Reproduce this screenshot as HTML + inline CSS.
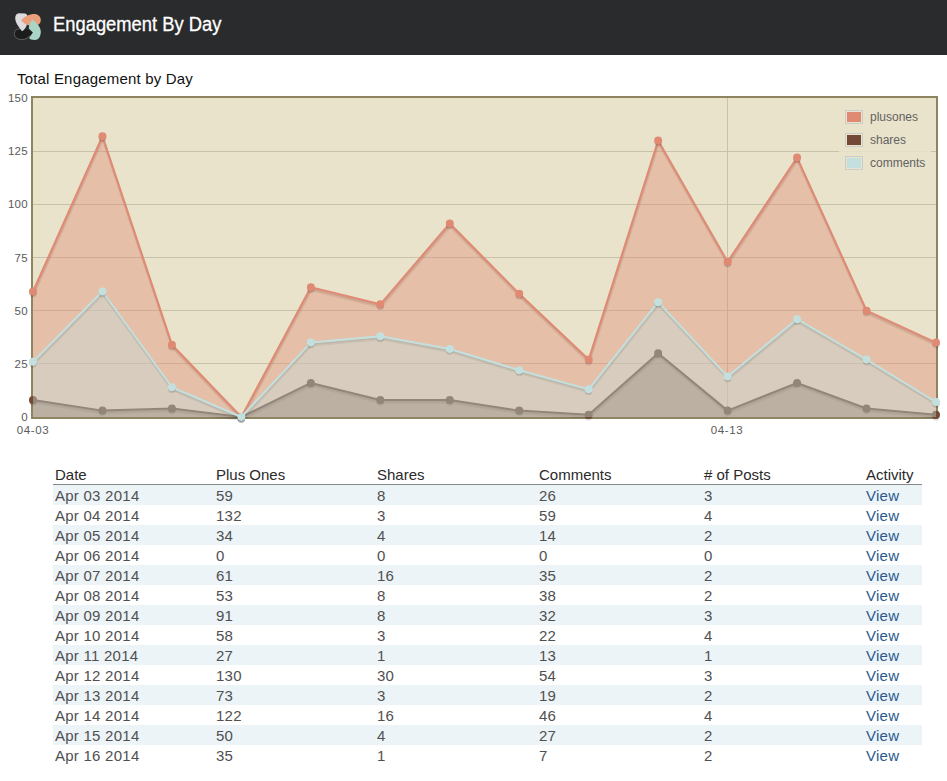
<!DOCTYPE html>
<html><head><meta charset="utf-8"><style>
html,body{margin:0;padding:0;background:#fff;width:947px;height:781px;overflow:hidden;position:relative}
body{font-family:"Liberation Sans",sans-serif}
.hdr{position:absolute;left:0;top:0;width:947px;height:55px;background:#2a2b2d}
.hdr .t{position:absolute;left:53px;top:12px;font-size:20px;color:#fff;line-height:24px;white-space:nowrap;transform-origin:0 0;transform:scaleX(0.918);-webkit-text-stroke:0.3px #fff}
.title{position:absolute;left:17px;top:70px;font-size:15px;letter-spacing:0.18px;color:#111;line-height:18px;white-space:nowrap}
.yl{position:absolute;right:919px;width:30px;text-align:right;font-size:11.5px;letter-spacing:0.3px;line-height:14px;color:#5a5a5a}
.xl{position:absolute;top:423px;font-size:11.5px;letter-spacing:0.6px;line-height:14px;color:#5a5a5a;width:40px;text-align:center}
.legend{position:absolute;left:839px;top:103px;width:92px;height:76px;background:#eae3cb;opacity:.85}
.lg{position:absolute;left:845px;width:18px;height:14px;box-sizing:border-box;border:1px solid #ccc;padding:1px}
.lg div{width:14px;height:10px}
.ll{position:absolute;left:870px;font-size:12px;line-height:14px;color:#626262;white-space:nowrap}
table{position:absolute;left:53px;top:464px;width:869px;border-collapse:collapse;font-size:15px;table-layout:fixed}
th{text-align:left;font-weight:normal;color:#2a2a2a;padding:0 2px;height:20px;border-bottom:1px solid #888;line-height:20px}
th span,td span{position:relative;top:1px}
td{padding:0 2px;height:20px;line-height:20px;color:#505050;letter-spacing:0.25px}
tr:nth-child(even) td{background:#ecf4f8}
td a{color:#2b5a8e}
</style></head><body>
<div class="hdr">
<svg style="position:absolute;left:0;top:0" width="50" height="50" viewBox="0 0 50 50">
<path d="M32.9,32.5 C29,30 25,28.8 20,28.8 C16.5,28.8 14.3,30.5 14.3,33.5 C14.3,37 17,39.6 22,39.6 C26,39.6 30,35 32.9,32.5 Z" fill="#1c1c1c"/>
<path d="M20,28.8 C16.5,28.8 14.3,30.5 14.3,33.5 C14.3,37 17,39.6 22,39.6 C26,39.6 29,37 30.5,35.5" fill="none" stroke="#858585" stroke-width="0.6"/>
<path d="M22,31.3 C19,27.5 15.2,22.5 15.2,18 C15.2,14.8 16.8,13.2 19.5,13.2 L24.8,13.4 C26.3,13.5 27.2,14.5 27.2,16 L26.8,25 C26,28 24,30 22,31.3 Z" fill="#dcdcdf"/>
<path d="M21,20.2 C24,17 28,14.5 33,14 C37,13.8 40.6,15.5 40.8,19.8 C40.9,22.3 39.6,24.3 38.2,24.8 L29.5,25.3 C26,25.3 23.5,22.5 21,20.2 Z" fill="#e9a07a"/>
<path d="M32.5,19.8 C36,22.5 40.7,26.5 40.8,31.5 C40.8,36.5 38.5,40 34.8,40 C31.8,40 29.3,39 29.2,38 L32.9,32.5 L28.8,28.4 C28.8,25 30.5,22 32.5,19.8 Z" fill="#aad5c6"/>
</svg>
<div class="t">Engagement By Day</div></div>
<div class="title">Total Engagement by Day</div>
<svg width="947" height="380" viewBox="0 60 947 380" style="position:absolute;left:0;top:60px">
<rect x="33" y="98" width="903" height="319" fill="#eae3cb"/>
<line x1="33" y1="363.5" x2="936" y2="363.5" stroke="#c9c1aa" stroke-width="1"/>
<line x1="33" y1="310.5" x2="936" y2="310.5" stroke="#c9c1aa" stroke-width="1"/>
<line x1="33" y1="257.5" x2="936" y2="257.5" stroke="#c9c1aa" stroke-width="1"/>
<line x1="33" y1="204.5" x2="936" y2="204.5" stroke="#c9c1aa" stroke-width="1"/>
<line x1="33" y1="151.5" x2="936" y2="151.5" stroke="#c9c1aa" stroke-width="1"/>
<line x1="727.5" y1="98" x2="727.5" y2="417" stroke="#c9c1aa" stroke-width="1"/>
<rect x="32" y="97" width="905" height="321" fill="none" stroke="#8f8460" stroke-width="2"/>
<polyline points="33.00,291.53 102.46,136.28 171.92,344.69 241.38,417.00 310.85,287.27 380.31,304.29 449.77,223.47 519.23,293.65 588.69,359.58 658.15,140.53 727.62,261.75 797.08,157.55 866.54,310.67 936.00,342.57" fill="none" stroke="#000" stroke-opacity="0.1" stroke-width="3" transform="translate(0.43,2.46)" stroke-linejoin="round"/>
<polyline points="33.00,291.53 102.46,136.28 171.92,344.69 241.38,417.00 310.85,287.27 380.31,304.29 449.77,223.47 519.23,293.65 588.69,359.58 658.15,140.53 727.62,261.75 797.08,157.55 866.54,310.67 936.00,342.57" fill="none" stroke="#000" stroke-opacity="0.1" stroke-width="1.5" transform="translate(0.30,1.72)" stroke-linejoin="round"/>
<path d="M33.00,417.00 L33.00,291.53 L102.46,136.28 L171.92,344.69 L241.38,417.00 L310.85,287.27 L380.31,304.29 L449.77,223.47 L519.23,293.65 L588.69,359.58 L658.15,140.53 L727.62,261.75 L797.08,157.55 L866.54,310.67 L936.00,342.57 L936.00,417.00 Z" fill="#e08a74" fill-opacity="0.4"/>
<polyline points="33.00,291.53 102.46,136.28 171.92,344.69 241.38,417.00 310.85,287.27 380.31,304.29 449.77,223.47 519.23,293.65 588.69,359.58 658.15,140.53 727.62,261.75 797.08,157.55 866.54,310.67 936.00,342.57" fill="none" stroke="#e08a74" stroke-width="2" stroke-linejoin="round"/>
<path d="M36.00,293.78 A3,3 0 0 1 30.00,293.78" fill="none" stroke="#000" stroke-opacity="0.1" stroke-width="1.5"/>
<path d="M36.00,292.28 A3,3 0 0 1 30.00,292.28" fill="none" stroke="#000" stroke-opacity="0.2" stroke-width="1.5"/>
<circle cx="33.00" cy="291.53" r="3" fill="#e08a74" stroke="#e08a74" stroke-width="2"/>
<path d="M105.46,138.53 A3,3 0 0 1 99.46,138.53" fill="none" stroke="#000" stroke-opacity="0.1" stroke-width="1.5"/>
<path d="M105.46,137.03 A3,3 0 0 1 99.46,137.03" fill="none" stroke="#000" stroke-opacity="0.2" stroke-width="1.5"/>
<circle cx="102.46" cy="136.28" r="3" fill="#e08a74" stroke="#e08a74" stroke-width="2"/>
<path d="M174.92,346.94 A3,3 0 0 1 168.92,346.94" fill="none" stroke="#000" stroke-opacity="0.1" stroke-width="1.5"/>
<path d="M174.92,345.44 A3,3 0 0 1 168.92,345.44" fill="none" stroke="#000" stroke-opacity="0.2" stroke-width="1.5"/>
<circle cx="171.92" cy="344.69" r="3" fill="#e08a74" stroke="#e08a74" stroke-width="2"/>
<path d="M244.38,419.25 A3,3 0 0 1 238.38,419.25" fill="none" stroke="#000" stroke-opacity="0.1" stroke-width="1.5"/>
<path d="M244.38,417.75 A3,3 0 0 1 238.38,417.75" fill="none" stroke="#000" stroke-opacity="0.2" stroke-width="1.5"/>
<circle cx="241.38" cy="417.00" r="3" fill="#e08a74" stroke="#e08a74" stroke-width="2"/>
<path d="M313.85,289.52 A3,3 0 0 1 307.85,289.52" fill="none" stroke="#000" stroke-opacity="0.1" stroke-width="1.5"/>
<path d="M313.85,288.02 A3,3 0 0 1 307.85,288.02" fill="none" stroke="#000" stroke-opacity="0.2" stroke-width="1.5"/>
<circle cx="310.85" cy="287.27" r="3" fill="#e08a74" stroke="#e08a74" stroke-width="2"/>
<path d="M383.31,306.54 A3,3 0 0 1 377.31,306.54" fill="none" stroke="#000" stroke-opacity="0.1" stroke-width="1.5"/>
<path d="M383.31,305.04 A3,3 0 0 1 377.31,305.04" fill="none" stroke="#000" stroke-opacity="0.2" stroke-width="1.5"/>
<circle cx="380.31" cy="304.29" r="3" fill="#e08a74" stroke="#e08a74" stroke-width="2"/>
<path d="M452.77,225.72 A3,3 0 0 1 446.77,225.72" fill="none" stroke="#000" stroke-opacity="0.1" stroke-width="1.5"/>
<path d="M452.77,224.22 A3,3 0 0 1 446.77,224.22" fill="none" stroke="#000" stroke-opacity="0.2" stroke-width="1.5"/>
<circle cx="449.77" cy="223.47" r="3" fill="#e08a74" stroke="#e08a74" stroke-width="2"/>
<path d="M522.23,295.90 A3,3 0 0 1 516.23,295.90" fill="none" stroke="#000" stroke-opacity="0.1" stroke-width="1.5"/>
<path d="M522.23,294.40 A3,3 0 0 1 516.23,294.40" fill="none" stroke="#000" stroke-opacity="0.2" stroke-width="1.5"/>
<circle cx="519.23" cy="293.65" r="3" fill="#e08a74" stroke="#e08a74" stroke-width="2"/>
<path d="M591.69,361.83 A3,3 0 0 1 585.69,361.83" fill="none" stroke="#000" stroke-opacity="0.1" stroke-width="1.5"/>
<path d="M591.69,360.33 A3,3 0 0 1 585.69,360.33" fill="none" stroke="#000" stroke-opacity="0.2" stroke-width="1.5"/>
<circle cx="588.69" cy="359.58" r="3" fill="#e08a74" stroke="#e08a74" stroke-width="2"/>
<path d="M661.15,142.78 A3,3 0 0 1 655.15,142.78" fill="none" stroke="#000" stroke-opacity="0.1" stroke-width="1.5"/>
<path d="M661.15,141.28 A3,3 0 0 1 655.15,141.28" fill="none" stroke="#000" stroke-opacity="0.2" stroke-width="1.5"/>
<circle cx="658.15" cy="140.53" r="3" fill="#e08a74" stroke="#e08a74" stroke-width="2"/>
<path d="M730.62,264.00 A3,3 0 0 1 724.62,264.00" fill="none" stroke="#000" stroke-opacity="0.1" stroke-width="1.5"/>
<path d="M730.62,262.50 A3,3 0 0 1 724.62,262.50" fill="none" stroke="#000" stroke-opacity="0.2" stroke-width="1.5"/>
<circle cx="727.62" cy="261.75" r="3" fill="#e08a74" stroke="#e08a74" stroke-width="2"/>
<path d="M800.08,159.80 A3,3 0 0 1 794.08,159.80" fill="none" stroke="#000" stroke-opacity="0.1" stroke-width="1.5"/>
<path d="M800.08,158.30 A3,3 0 0 1 794.08,158.30" fill="none" stroke="#000" stroke-opacity="0.2" stroke-width="1.5"/>
<circle cx="797.08" cy="157.55" r="3" fill="#e08a74" stroke="#e08a74" stroke-width="2"/>
<path d="M869.54,312.92 A3,3 0 0 1 863.54,312.92" fill="none" stroke="#000" stroke-opacity="0.1" stroke-width="1.5"/>
<path d="M869.54,311.42 A3,3 0 0 1 863.54,311.42" fill="none" stroke="#000" stroke-opacity="0.2" stroke-width="1.5"/>
<circle cx="866.54" cy="310.67" r="3" fill="#e08a74" stroke="#e08a74" stroke-width="2"/>
<path d="M939.00,344.82 A3,3 0 0 1 933.00,344.82" fill="none" stroke="#000" stroke-opacity="0.1" stroke-width="1.5"/>
<path d="M939.00,343.32 A3,3 0 0 1 933.00,343.32" fill="none" stroke="#000" stroke-opacity="0.2" stroke-width="1.5"/>
<circle cx="936.00" cy="342.57" r="3" fill="#e08a74" stroke="#e08a74" stroke-width="2"/>
<polyline points="33.00,399.99 102.46,410.62 171.92,408.49 241.38,417.00 310.85,382.97 380.31,399.99 449.77,399.99 519.23,410.62 588.69,414.87 658.15,353.20 727.62,410.62 797.08,382.97 866.54,408.49 936.00,414.87" fill="none" stroke="#000" stroke-opacity="0.1" stroke-width="3" transform="translate(0.43,2.46)" stroke-linejoin="round"/>
<polyline points="33.00,399.99 102.46,410.62 171.92,408.49 241.38,417.00 310.85,382.97 380.31,399.99 449.77,399.99 519.23,410.62 588.69,414.87 658.15,353.20 727.62,410.62 797.08,382.97 866.54,408.49 936.00,414.87" fill="none" stroke="#000" stroke-opacity="0.1" stroke-width="1.5" transform="translate(0.30,1.72)" stroke-linejoin="round"/>
<path d="M33.00,417.00 L33.00,399.99 L102.46,410.62 L171.92,408.49 L241.38,417.00 L310.85,382.97 L380.31,399.99 L449.77,399.99 L519.23,410.62 L588.69,414.87 L658.15,353.20 L727.62,410.62 L797.08,382.97 L866.54,408.49 L936.00,414.87 L936.00,417.00 Z" fill="#744a36" fill-opacity="0.4"/>
<polyline points="33.00,399.99 102.46,410.62 171.92,408.49 241.38,417.00 310.85,382.97 380.31,399.99 449.77,399.99 519.23,410.62 588.69,414.87 658.15,353.20 727.62,410.62 797.08,382.97 866.54,408.49 936.00,414.87" fill="none" stroke="#744a36" stroke-width="2" stroke-linejoin="round"/>
<path d="M36.00,402.24 A3,3 0 0 1 30.00,402.24" fill="none" stroke="#000" stroke-opacity="0.1" stroke-width="1.5"/>
<path d="M36.00,400.74 A3,3 0 0 1 30.00,400.74" fill="none" stroke="#000" stroke-opacity="0.2" stroke-width="1.5"/>
<circle cx="33.00" cy="399.99" r="3" fill="#744a36" stroke="#744a36" stroke-width="2"/>
<path d="M105.46,412.87 A3,3 0 0 1 99.46,412.87" fill="none" stroke="#000" stroke-opacity="0.1" stroke-width="1.5"/>
<path d="M105.46,411.37 A3,3 0 0 1 99.46,411.37" fill="none" stroke="#000" stroke-opacity="0.2" stroke-width="1.5"/>
<circle cx="102.46" cy="410.62" r="3" fill="#744a36" stroke="#744a36" stroke-width="2"/>
<path d="M174.92,410.74 A3,3 0 0 1 168.92,410.74" fill="none" stroke="#000" stroke-opacity="0.1" stroke-width="1.5"/>
<path d="M174.92,409.24 A3,3 0 0 1 168.92,409.24" fill="none" stroke="#000" stroke-opacity="0.2" stroke-width="1.5"/>
<circle cx="171.92" cy="408.49" r="3" fill="#744a36" stroke="#744a36" stroke-width="2"/>
<path d="M244.38,419.25 A3,3 0 0 1 238.38,419.25" fill="none" stroke="#000" stroke-opacity="0.1" stroke-width="1.5"/>
<path d="M244.38,417.75 A3,3 0 0 1 238.38,417.75" fill="none" stroke="#000" stroke-opacity="0.2" stroke-width="1.5"/>
<circle cx="241.38" cy="417.00" r="3" fill="#744a36" stroke="#744a36" stroke-width="2"/>
<path d="M313.85,385.22 A3,3 0 0 1 307.85,385.22" fill="none" stroke="#000" stroke-opacity="0.1" stroke-width="1.5"/>
<path d="M313.85,383.72 A3,3 0 0 1 307.85,383.72" fill="none" stroke="#000" stroke-opacity="0.2" stroke-width="1.5"/>
<circle cx="310.85" cy="382.97" r="3" fill="#744a36" stroke="#744a36" stroke-width="2"/>
<path d="M383.31,402.24 A3,3 0 0 1 377.31,402.24" fill="none" stroke="#000" stroke-opacity="0.1" stroke-width="1.5"/>
<path d="M383.31,400.74 A3,3 0 0 1 377.31,400.74" fill="none" stroke="#000" stroke-opacity="0.2" stroke-width="1.5"/>
<circle cx="380.31" cy="399.99" r="3" fill="#744a36" stroke="#744a36" stroke-width="2"/>
<path d="M452.77,402.24 A3,3 0 0 1 446.77,402.24" fill="none" stroke="#000" stroke-opacity="0.1" stroke-width="1.5"/>
<path d="M452.77,400.74 A3,3 0 0 1 446.77,400.74" fill="none" stroke="#000" stroke-opacity="0.2" stroke-width="1.5"/>
<circle cx="449.77" cy="399.99" r="3" fill="#744a36" stroke="#744a36" stroke-width="2"/>
<path d="M522.23,412.87 A3,3 0 0 1 516.23,412.87" fill="none" stroke="#000" stroke-opacity="0.1" stroke-width="1.5"/>
<path d="M522.23,411.37 A3,3 0 0 1 516.23,411.37" fill="none" stroke="#000" stroke-opacity="0.2" stroke-width="1.5"/>
<circle cx="519.23" cy="410.62" r="3" fill="#744a36" stroke="#744a36" stroke-width="2"/>
<path d="M591.69,417.12 A3,3 0 0 1 585.69,417.12" fill="none" stroke="#000" stroke-opacity="0.1" stroke-width="1.5"/>
<path d="M591.69,415.62 A3,3 0 0 1 585.69,415.62" fill="none" stroke="#000" stroke-opacity="0.2" stroke-width="1.5"/>
<circle cx="588.69" cy="414.87" r="3" fill="#744a36" stroke="#744a36" stroke-width="2"/>
<path d="M661.15,355.45 A3,3 0 0 1 655.15,355.45" fill="none" stroke="#000" stroke-opacity="0.1" stroke-width="1.5"/>
<path d="M661.15,353.95 A3,3 0 0 1 655.15,353.95" fill="none" stroke="#000" stroke-opacity="0.2" stroke-width="1.5"/>
<circle cx="658.15" cy="353.20" r="3" fill="#744a36" stroke="#744a36" stroke-width="2"/>
<path d="M730.62,412.87 A3,3 0 0 1 724.62,412.87" fill="none" stroke="#000" stroke-opacity="0.1" stroke-width="1.5"/>
<path d="M730.62,411.37 A3,3 0 0 1 724.62,411.37" fill="none" stroke="#000" stroke-opacity="0.2" stroke-width="1.5"/>
<circle cx="727.62" cy="410.62" r="3" fill="#744a36" stroke="#744a36" stroke-width="2"/>
<path d="M800.08,385.22 A3,3 0 0 1 794.08,385.22" fill="none" stroke="#000" stroke-opacity="0.1" stroke-width="1.5"/>
<path d="M800.08,383.72 A3,3 0 0 1 794.08,383.72" fill="none" stroke="#000" stroke-opacity="0.2" stroke-width="1.5"/>
<circle cx="797.08" cy="382.97" r="3" fill="#744a36" stroke="#744a36" stroke-width="2"/>
<path d="M869.54,410.74 A3,3 0 0 1 863.54,410.74" fill="none" stroke="#000" stroke-opacity="0.1" stroke-width="1.5"/>
<path d="M869.54,409.24 A3,3 0 0 1 863.54,409.24" fill="none" stroke="#000" stroke-opacity="0.2" stroke-width="1.5"/>
<circle cx="866.54" cy="408.49" r="3" fill="#744a36" stroke="#744a36" stroke-width="2"/>
<path d="M939.00,417.12 A3,3 0 0 1 933.00,417.12" fill="none" stroke="#000" stroke-opacity="0.1" stroke-width="1.5"/>
<path d="M939.00,415.62 A3,3 0 0 1 933.00,415.62" fill="none" stroke="#000" stroke-opacity="0.2" stroke-width="1.5"/>
<circle cx="936.00" cy="414.87" r="3" fill="#744a36" stroke="#744a36" stroke-width="2"/>
<polyline points="33.00,361.71 102.46,291.53 171.92,387.23 241.38,417.00 310.85,342.57 380.31,336.19 449.77,348.95 519.23,370.21 588.69,389.35 658.15,302.16 727.62,376.59 797.08,319.17 866.54,359.58 936.00,402.11" fill="none" stroke="#000" stroke-opacity="0.1" stroke-width="3" transform="translate(0.43,2.46)" stroke-linejoin="round"/>
<polyline points="33.00,361.71 102.46,291.53 171.92,387.23 241.38,417.00 310.85,342.57 380.31,336.19 449.77,348.95 519.23,370.21 588.69,389.35 658.15,302.16 727.62,376.59 797.08,319.17 866.54,359.58 936.00,402.11" fill="none" stroke="#000" stroke-opacity="0.1" stroke-width="1.5" transform="translate(0.30,1.72)" stroke-linejoin="round"/>
<path d="M33.00,417.00 L33.00,361.71 L102.46,291.53 L171.92,387.23 L241.38,417.00 L310.85,342.57 L380.31,336.19 L449.77,348.95 L519.23,370.21 L588.69,389.35 L658.15,302.16 L727.62,376.59 L797.08,319.17 L866.54,359.58 L936.00,402.11 L936.00,417.00 Z" fill="#c3e0df" fill-opacity="0.4"/>
<polyline points="33.00,361.71 102.46,291.53 171.92,387.23 241.38,417.00 310.85,342.57 380.31,336.19 449.77,348.95 519.23,370.21 588.69,389.35 658.15,302.16 727.62,376.59 797.08,319.17 866.54,359.58 936.00,402.11" fill="none" stroke="#c3e0df" stroke-width="2" stroke-linejoin="round"/>
<path d="M36.00,363.96 A3,3 0 0 1 30.00,363.96" fill="none" stroke="#000" stroke-opacity="0.1" stroke-width="1.5"/>
<path d="M36.00,362.46 A3,3 0 0 1 30.00,362.46" fill="none" stroke="#000" stroke-opacity="0.2" stroke-width="1.5"/>
<circle cx="33.00" cy="361.71" r="3" fill="#c3e0df" stroke="#c3e0df" stroke-width="2"/>
<path d="M105.46,293.78 A3,3 0 0 1 99.46,293.78" fill="none" stroke="#000" stroke-opacity="0.1" stroke-width="1.5"/>
<path d="M105.46,292.28 A3,3 0 0 1 99.46,292.28" fill="none" stroke="#000" stroke-opacity="0.2" stroke-width="1.5"/>
<circle cx="102.46" cy="291.53" r="3" fill="#c3e0df" stroke="#c3e0df" stroke-width="2"/>
<path d="M174.92,389.48 A3,3 0 0 1 168.92,389.48" fill="none" stroke="#000" stroke-opacity="0.1" stroke-width="1.5"/>
<path d="M174.92,387.98 A3,3 0 0 1 168.92,387.98" fill="none" stroke="#000" stroke-opacity="0.2" stroke-width="1.5"/>
<circle cx="171.92" cy="387.23" r="3" fill="#c3e0df" stroke="#c3e0df" stroke-width="2"/>
<path d="M244.38,419.25 A3,3 0 0 1 238.38,419.25" fill="none" stroke="#000" stroke-opacity="0.1" stroke-width="1.5"/>
<path d="M244.38,417.75 A3,3 0 0 1 238.38,417.75" fill="none" stroke="#000" stroke-opacity="0.2" stroke-width="1.5"/>
<circle cx="241.38" cy="417.00" r="3" fill="#c3e0df" stroke="#c3e0df" stroke-width="2"/>
<path d="M313.85,344.82 A3,3 0 0 1 307.85,344.82" fill="none" stroke="#000" stroke-opacity="0.1" stroke-width="1.5"/>
<path d="M313.85,343.32 A3,3 0 0 1 307.85,343.32" fill="none" stroke="#000" stroke-opacity="0.2" stroke-width="1.5"/>
<circle cx="310.85" cy="342.57" r="3" fill="#c3e0df" stroke="#c3e0df" stroke-width="2"/>
<path d="M383.31,338.44 A3,3 0 0 1 377.31,338.44" fill="none" stroke="#000" stroke-opacity="0.1" stroke-width="1.5"/>
<path d="M383.31,336.94 A3,3 0 0 1 377.31,336.94" fill="none" stroke="#000" stroke-opacity="0.2" stroke-width="1.5"/>
<circle cx="380.31" cy="336.19" r="3" fill="#c3e0df" stroke="#c3e0df" stroke-width="2"/>
<path d="M452.77,351.20 A3,3 0 0 1 446.77,351.20" fill="none" stroke="#000" stroke-opacity="0.1" stroke-width="1.5"/>
<path d="M452.77,349.70 A3,3 0 0 1 446.77,349.70" fill="none" stroke="#000" stroke-opacity="0.2" stroke-width="1.5"/>
<circle cx="449.77" cy="348.95" r="3" fill="#c3e0df" stroke="#c3e0df" stroke-width="2"/>
<path d="M522.23,372.46 A3,3 0 0 1 516.23,372.46" fill="none" stroke="#000" stroke-opacity="0.1" stroke-width="1.5"/>
<path d="M522.23,370.96 A3,3 0 0 1 516.23,370.96" fill="none" stroke="#000" stroke-opacity="0.2" stroke-width="1.5"/>
<circle cx="519.23" cy="370.21" r="3" fill="#c3e0df" stroke="#c3e0df" stroke-width="2"/>
<path d="M591.69,391.60 A3,3 0 0 1 585.69,391.60" fill="none" stroke="#000" stroke-opacity="0.1" stroke-width="1.5"/>
<path d="M591.69,390.10 A3,3 0 0 1 585.69,390.10" fill="none" stroke="#000" stroke-opacity="0.2" stroke-width="1.5"/>
<circle cx="588.69" cy="389.35" r="3" fill="#c3e0df" stroke="#c3e0df" stroke-width="2"/>
<path d="M661.15,304.41 A3,3 0 0 1 655.15,304.41" fill="none" stroke="#000" stroke-opacity="0.1" stroke-width="1.5"/>
<path d="M661.15,302.91 A3,3 0 0 1 655.15,302.91" fill="none" stroke="#000" stroke-opacity="0.2" stroke-width="1.5"/>
<circle cx="658.15" cy="302.16" r="3" fill="#c3e0df" stroke="#c3e0df" stroke-width="2"/>
<path d="M730.62,378.84 A3,3 0 0 1 724.62,378.84" fill="none" stroke="#000" stroke-opacity="0.1" stroke-width="1.5"/>
<path d="M730.62,377.34 A3,3 0 0 1 724.62,377.34" fill="none" stroke="#000" stroke-opacity="0.2" stroke-width="1.5"/>
<circle cx="727.62" cy="376.59" r="3" fill="#c3e0df" stroke="#c3e0df" stroke-width="2"/>
<path d="M800.08,321.42 A3,3 0 0 1 794.08,321.42" fill="none" stroke="#000" stroke-opacity="0.1" stroke-width="1.5"/>
<path d="M800.08,319.92 A3,3 0 0 1 794.08,319.92" fill="none" stroke="#000" stroke-opacity="0.2" stroke-width="1.5"/>
<circle cx="797.08" cy="319.17" r="3" fill="#c3e0df" stroke="#c3e0df" stroke-width="2"/>
<path d="M869.54,361.83 A3,3 0 0 1 863.54,361.83" fill="none" stroke="#000" stroke-opacity="0.1" stroke-width="1.5"/>
<path d="M869.54,360.33 A3,3 0 0 1 863.54,360.33" fill="none" stroke="#000" stroke-opacity="0.2" stroke-width="1.5"/>
<circle cx="866.54" cy="359.58" r="3" fill="#c3e0df" stroke="#c3e0df" stroke-width="2"/>
<path d="M939.00,404.36 A3,3 0 0 1 933.00,404.36" fill="none" stroke="#000" stroke-opacity="0.1" stroke-width="1.5"/>
<path d="M939.00,402.86 A3,3 0 0 1 933.00,402.86" fill="none" stroke="#000" stroke-opacity="0.2" stroke-width="1.5"/>
<circle cx="936.00" cy="402.11" r="3" fill="#c3e0df" stroke="#c3e0df" stroke-width="2"/>
</svg>
<div class="yl" style="top:410.0px">0</div><div class="yl" style="top:356.8px">25</div><div class="yl" style="top:303.7px">50</div><div class="yl" style="top:250.5px">75</div><div class="yl" style="top:197.3px">100</div><div class="yl" style="top:144.2px">125</div><div class="yl" style="top:91.0px">150</div>
<div class="xl" style="left:13px">04-03</div>
<div class="xl" style="left:707px">04-13</div>
<div class="legend"></div>
<div class="lg" style="top:110px"><div style="background:#e08a74"></div></div>
<div class="lg" style="top:133px"><div style="background:#744a36"></div></div>
<div class="lg" style="top:156px"><div style="background:#c3e0df"></div></div>
<div class="ll" style="top:110px">plusones</div>
<div class="ll" style="top:133px">shares</div>
<div class="ll" style="top:156px">comments</div>
<table>
<colgroup><col style="width:161px"><col style="width:161px"><col style="width:162px"><col style="width:165px"><col style="width:162px"><col style="width:58px"></colgroup>
<tr><th><span>Date</span></th><th><span>Plus Ones</span></th><th><span>Shares</span></th><th><span>Comments</span></th><th><span># of Posts</span></th><th><span>Activity</span></th></tr>
<tr><td><span>Apr 03 2014</span></td><td><span>59</span></td><td><span>8</span></td><td><span>26</span></td><td><span>3</span></td><td><span><a>View</a></span></td></tr>
<tr><td><span>Apr 04 2014</span></td><td><span>132</span></td><td><span>3</span></td><td><span>59</span></td><td><span>4</span></td><td><span><a>View</a></span></td></tr>
<tr><td><span>Apr 05 2014</span></td><td><span>34</span></td><td><span>4</span></td><td><span>14</span></td><td><span>2</span></td><td><span><a>View</a></span></td></tr>
<tr><td><span>Apr 06 2014</span></td><td><span>0</span></td><td><span>0</span></td><td><span>0</span></td><td><span>0</span></td><td><span><a>View</a></span></td></tr>
<tr><td><span>Apr 07 2014</span></td><td><span>61</span></td><td><span>16</span></td><td><span>35</span></td><td><span>2</span></td><td><span><a>View</a></span></td></tr>
<tr><td><span>Apr 08 2014</span></td><td><span>53</span></td><td><span>8</span></td><td><span>38</span></td><td><span>2</span></td><td><span><a>View</a></span></td></tr>
<tr><td><span>Apr 09 2014</span></td><td><span>91</span></td><td><span>8</span></td><td><span>32</span></td><td><span>3</span></td><td><span><a>View</a></span></td></tr>
<tr><td><span>Apr 10 2014</span></td><td><span>58</span></td><td><span>3</span></td><td><span>22</span></td><td><span>4</span></td><td><span><a>View</a></span></td></tr>
<tr><td><span>Apr 11 2014</span></td><td><span>27</span></td><td><span>1</span></td><td><span>13</span></td><td><span>1</span></td><td><span><a>View</a></span></td></tr>
<tr><td><span>Apr 12 2014</span></td><td><span>130</span></td><td><span>30</span></td><td><span>54</span></td><td><span>3</span></td><td><span><a>View</a></span></td></tr>
<tr><td><span>Apr 13 2014</span></td><td><span>73</span></td><td><span>3</span></td><td><span>19</span></td><td><span>2</span></td><td><span><a>View</a></span></td></tr>
<tr><td><span>Apr 14 2014</span></td><td><span>122</span></td><td><span>16</span></td><td><span>46</span></td><td><span>4</span></td><td><span><a>View</a></span></td></tr>
<tr><td><span>Apr 15 2014</span></td><td><span>50</span></td><td><span>4</span></td><td><span>27</span></td><td><span>2</span></td><td><span><a>View</a></span></td></tr>
<tr><td><span>Apr 16 2014</span></td><td><span>35</span></td><td><span>1</span></td><td><span>7</span></td><td><span>2</span></td><td><span><a>View</a></span></td></tr>
</table>
</body></html>
